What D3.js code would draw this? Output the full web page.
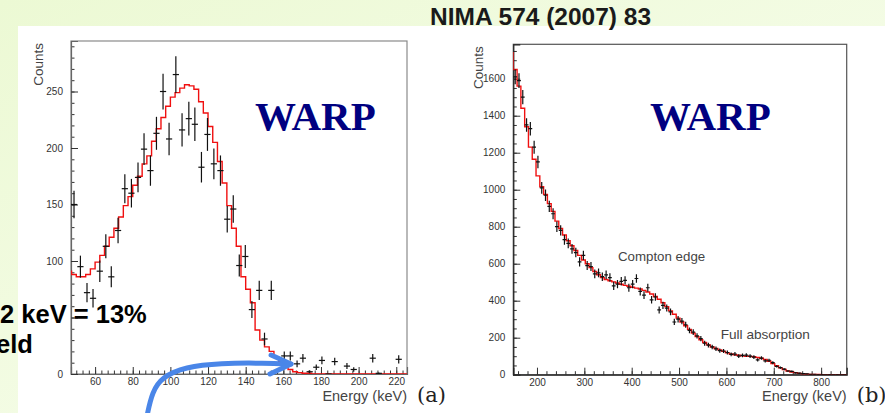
<!DOCTYPE html>
<html>
<head>
<meta charset="utf-8">
<script src="https://cdn.jsdelivr.net/npm/d3@7/dist/d3.min.js"></script>
<style>
  body { margin: 0; padding: 0; background: #fff; }
  svg { display: block; }
  .tick text { font-family: "Liberation Sans", Arial, sans-serif; font-size: 10px; fill: #333; }
  .axisTitle { font-family: "Liberation Sans", Arial, sans-serif; fill: #444; }
</style>
</head>
<body>
<div id="chart"></div>
<script>
var svgWidth = 885;
var svgHeight = 413;

// ---------- panel (a) data ----------
// measured points: energy (keV) and counts
var ptsEnergyA = [48.8, 52.2, 55.7, 58.9, 62.5, 65.7, 68.6, 72.2, 75.8, 79.3,
  82.8, 86, 89.4, 92.6, 96.1, 99.3, 102.9, 106.2, 109.8, 113,
  116.5, 119.7, 123.1, 126.6, 130.2, 133.4, 136.6, 139.8, 143.3, 147.2,
  150, 153.6, 160.5, 163.7, 167.3, 170.4, 174, 177.5, 180.5, 184,
  187.3, 193.8, 197.4, 207.5, 210.7, 221.3];
var ptsCountsA = [150, 95, 72, 67, 91, 113, 86, 127, 164, 160,
  174, 199, 180, 213, 250, 208, 265, 216, 226, 221,
  183, 212, 186, 180, 137, 146, 96, 104, 57, 74,
  31, 74, 16, 16, 9, 14, 2, 6, 12, 0,
  11, 7, 4, 14, 0.6, 13];
// simulated spectrum (red histogram), 2.5 keV bins from 45 keV
var simStartA = 45;
var simWidthA = 2.5;
var simCountsA = [91, 88, 86, 86, 88, 93, 99, 105, 113, 121,
  129, 139, 149, 157, 167, 175, 186, 193, 206, 217,
  227, 237, 245, 249, 253, 256, 255, 252, 241, 231,
  219, 205, 188, 169, 149, 129, 113, 86, 75, 63,
  39, 30, 24, 20, 15, 11, 6.5, 4, 2, 1.2,
  0.6, 0.6, 0, 0, 0, 0, 0, 0, 0, 0,
  0, 0, 0, 0, 0, 0, 0, 0, 0, 0, 0, 0, 0];
var xTicksA = [60, 80, 100, 120, 140, 160, 180, 200, 220];
var yTicksA = [0, 50, 100, 150, 200, 250];
var yLabelsA = ["0", "", "100", "150", "200", "250"];   // "50" sits under the overlay text

// ---------- panel (b) data ----------
var ptsStartB = 154;
var ptsWidthB = 8;
var ptsCountsB = [1610, 1590, 1500, 1350, 1330, 1230, 1150, 1010, 970, 910,
  870, 800, 780, 730, 710, 680, 660, 610, 645, 590,
  585, 545, 550, 530, 540, 525, 480, 490, 505, 510,
  470, 490, 520, 450, 430, 470, 405, 420, 350, 375,
  360, 340, 285, 300, 290, 270, 240, 230, 210, 195,
  170, 160, 150, 140, 130, 128, 120, 110, 112, 100,
  104, 106, 100, 95, 80, 90, 75, 78, 65, 45,
  38, 30, 20, 18, 10, 8, 6, 4, 2, 2,
  1, 1, 0, 1, 0, 1, 0, 0];
var simStartB = 142;
var simWidthB = 8;
var simCountsB = [1740, 1650, 1560, 1440, 1340, 1230, 1165, 1075, 1016, 975, 925,
  883, 830, 790, 755, 724, 697, 671, 645, 620, 600,
  579, 558, 540, 525, 515, 508, 502, 496, 489, 483,
  478, 473, 468, 463, 456, 447, 436, 423, 408, 389,
  368, 345, 327, 306, 285, 265, 245, 225, 206, 189,
  174, 161, 150, 142, 134, 126, 118, 112, 108, 105,
  102, 100, 99, 97, 93, 89, 82, 73, 60, 48,
  37, 28, 20, 15, 11, 7, 5, 3, 2, 1,
  1, 0, 0, 0, 0, 0, 0, 0];
var xTicksB = [200, 300, 400, 500, 600, 700, 800];
var yTicksB = [0, 200, 400, 600, 800, 1000, 1200, 1400, 1600];
var yLabelsB = yTicksB.map(String);

var svg = d3.select("#chart")
  .append("svg")
  .attr("width", svgWidth)
  .attr("height", svgHeight);

// Slide background
// ==============================
var defs = svg.append("defs");
var bg = defs.append("linearGradient")
  .attr("id", "bgGrad")
  .attr("x1", "0").attr("y1", "0")
  .attr("x2", "1").attr("y2", "1");
bg.append("stop").attr("offset", "0").attr("stop-color", "#ecf9d4");
bg.append("stop").attr("offset", "0.6").attr("stop-color", "#f4fce6");
bg.append("stop").attr("offset", "1").attr("stop-color", "#fbfef5");

svg.append("rect")
  .attr("width", svgWidth)
  .attr("height", svgHeight)
  .attr("fill", "url(#bgGrad)");

svg.append("rect")
  .attr("x", 18)
  .attr("y", 26)
  .attr("width", svgWidth - 18)
  .attr("height", svgHeight - 26)
  .attr("fill", "#fff");

// Draw one ROOT-like panel
// ==============================
function drawPanel(cfg) {
  var x = d3.scaleLinear().domain(cfg.xDomain).range([cfg.left, cfg.right]);
  var y = d3.scaleLinear().domain(cfg.yDomain).range([cfg.bottom, cfg.top]);

  defs.append("clipPath")
    .attr("id", cfg.id + "Clip")
    .append("rect")
    .attr("x", cfg.left)
    .attr("y", cfg.top)
    .attr("width", cfg.right - cfg.left)
    .attr("height", cfg.bottom - cfg.top);

  var g = svg.append("g");

  // frame
  g.append("rect")
    .attr("x", cfg.left)
    .attr("y", cfg.top)
    .attr("width", cfg.right - cfg.left)
    .attr("height", cfg.bottom - cfg.top)
    .attr("fill", "none")
    .attr("stroke", cfg.frameColor)
    .attr("stroke-width", 1.2);

  // minor ticks first, then major ticks with labels
  g.append("g")
    .attr("transform", `translate(0, ${cfg.bottom})`)
    .call(d3.axisBottom(x).tickValues(d3.range(cfg.xMinor[0], cfg.xMinor[1], cfg.xMinor[2])).tickSize(-3.5).tickFormat(""))
    .call(a => a.select(".domain").remove())
    .selectAll("line").attr("stroke", "#333");

  g.append("g")
    .attr("transform", `translate(0, ${cfg.bottom})`)
    .call(d3.axisBottom(x).tickValues(cfg.xTicks).tickSize(-7).tickPadding(4).tickFormat(d3.format("d")))
    .call(a => a.select(".domain").attr("stroke", cfg.axisColor).attr("stroke-width", 1.2))
    .selectAll("line").attr("stroke", "#333");

  g.append("g")
    .attr("transform", `translate(${cfg.left}, 0)`)
    .call(d3.axisLeft(y).tickValues(d3.range(cfg.yMinor[0], cfg.yMinor[1], cfg.yMinor[2])).tickSize(-3.5).tickFormat(""))
    .call(a => a.select(".domain").remove())
    .selectAll("line").attr("stroke", "#333");

  g.append("g")
    .attr("transform", `translate(${cfg.left}, 0)`)
    .call(d3.axisLeft(y).tickValues(cfg.yTicks).tickSize(-7).tickPadding(8)
      .tickFormat((d, i) => cfg.yLabels[i]))
    .call(a => a.select(".domain").attr("stroke", cfg.axisColor).attr("stroke-width", 1.2))
    .selectAll("line").attr("stroke", "#333");

  var plot = g.append("g").attr("clip-path", `url(#${cfg.id}Clip)`);

  // red simulated histogram
  var steps = cfg.simCounts.map((v, i) => [cfg.simStart + i * cfg.simWidth, v]);
  steps.push([cfg.simStart + cfg.simCounts.length * cfg.simWidth, cfg.simCounts[cfg.simCounts.length - 1]]);
  var line = d3.line()
    .x(d => x(d[0]))
    .y(d => y(d[1]))
    .curve(d3.curveStepAfter);
  plot.append("path")
    .datum(steps)
    .attr("d", line)
    .attr("fill", "none")
    .attr("stroke", "#f01010")
    .attr("stroke-width", 1.4);

  // data points with error bars
  var pts = cfg.ptsEnergy.map((e, i) => ({ e: e, c: cfg.ptsCounts[i] }));
  var pg = plot.selectAll(".pt")
    .data(pts)
    .enter()
    .append("g")
    .attr("class", "pt");
  pg.append("line")
    .attr("x1", d => x(d.e - cfg.xErr))
    .attr("x2", d => x(d.e + cfg.xErr))
    .attr("y1", d => y(d.c))
    .attr("y2", d => y(d.c))
    .attr("stroke", "#111")
    .attr("stroke-width", 1.2);
  pg.append("line")
    .attr("x1", d => x(d.e))
    .attr("x2", d => x(d.e))
    .attr("y1", d => y(d.c + Math.sqrt(d.c)))
    .attr("y2", d => y(Math.max(0, d.c - Math.sqrt(d.c))))
    .attr("stroke", "#111")
    .attr("stroke-width", 1.2);

  // axis titles
  g.append("text")
    .attr("class", "axisTitle")
    .attr("transform", `translate(${cfg.countsX}, ${cfg.top + 2}) rotate(-90)`)
    .attr("text-anchor", "end")
    .style("font-size", "13.5px")
    .text("Counts");

  g.append("text")
    .attr("class", "axisTitle")
    .attr("x", cfg.right)
    .attr("y", 401)
    .attr("text-anchor", "end")
    .style("font-size", "14.5px")
    .text("Energy (keV)");

  g.append("text")
    .attr("x", cfg.right + 10)
    .attr("y", 402)
    .style("font-family", "'DejaVu Serif', 'Liberation Serif', serif")
    .style("font-size", "21px")
    .attr("fill", "#222")
    .text(cfg.tag);

  g.append("text")
    .attr("x", cfg.warpX)
    .attr("y", 130)
    .style("font-family", "'Liberation Serif', 'Times New Roman', serif")
    .style("font-weight", "bold")
    .style("font-size", "41px")
    .attr("fill", "#000080")
    .text("WARP");

  return { x: x, y: y, g: g };
}

var panelA = drawPanel({
  id: "a", left: 71, right: 407, top: 41, bottom: 374,
  xDomain: [47.2, 225.7], yDomain: [0, 294.7],
  xTicks: xTicksA, yTicks: yTicksA, yLabels: yLabelsA,
  xMinor: [50, 226, 10 / 3], yMinor: [0, 295, 10],
  simStart: simStartA, simWidth: simWidthA, simCounts: simCountsA,
  ptsEnergy: ptsEnergyA, ptsCounts: ptsCountsA, xErr: 1.65,
  frameColor: "#8a8a8a", axisColor: "#666",
  countsX: 43, tag: "(a)", warpX: 255
});

var ptsEnergyB = ptsCountsB.map((c, i) => ptsStartB + i * ptsWidthB);
var panelB = drawPanel({
  id: "b", left: 513.3, right: 846.7, top: 44.3, bottom: 374.7,
  xDomain: [150, 854], yDomain: [0, 1786],
  xTicks: xTicksB, yTicks: yTicksB, yLabels: yLabelsB,
  xMinor: [160, 854, 20], yMinor: [0, 1786, 50],
  simStart: simStartB, simWidth: simWidthB, simCounts: simCountsB,
  ptsEnergy: ptsEnergyB, ptsCounts: ptsCountsB, xErr: 4,
  frameColor: "#555", axisColor: "#222",
  countsX: 483, tag: "(b)", warpX: 650
});

// Annotations in panel (b)
panelB.g.append("text")
  .attr("class", "axisTitle")
  .attr("x", panelB.x(371))
  .attr("y", 261)
  .style("font-size", "13.3px")
  .text("Compton edge");

panelB.g.append("text")
  .attr("class", "axisTitle")
  .attr("x", panelB.x(588))
  .attr("y", 339)
  .style("font-size", "13.6px")
  .text("Full absorption");

// Slide title and overlay text
// ==============================
svg.append("text")
  .attr("x", 430)
  .attr("y", 25)
  .style("font-family", "'Liberation Sans', Arial, sans-serif")
  .style("font-weight", "bold")
  .style("font-size", "24.5px")
  .attr("fill", "#1a1a1a")
  .text("NIMA 574 (2007) 83");

svg.append("text")
  .attr("x", 0)
  .attr("y", 323)
  .style("font-family", "'Liberation Sans', Arial, sans-serif")
  .style("font-weight", "bold")
  .style("font-size", "25.5px")
  .attr("fill", "#000")
  .text("2 keV = 13%");

svg.append("text")
  .attr("x", -4)
  .attr("y", 353)
  .style("font-family", "'Liberation Sans', Arial, sans-serif")
  .style("font-weight", "bold")
  .style("font-size", "25.5px")
  .attr("fill", "#000")
  .text("eld");

// Blue arrow pointing at the tail of panel (a)
var arrowPts = [[87.6, -37], [90.3, -15.9], [95.6, -2.7], [107.8, 6.2], [126.4, 9.7], [150.3, 9.7], [164.1, 8.8]];
var arrowHead = [[153.5, 16.8], [164.1, 8.8], [152.9, 0]];
var arrowLine = d3.line()
  .x(d => panelA.x(d[0]))
  .y(d => panelA.y(d[1]))
  .curve(d3.curveBasis);
svg.append("path")
  .datum(arrowPts)
  .attr("d", arrowLine)
  .attr("fill", "none")
  .attr("stroke", "#4a86e8")
  .attr("stroke-width", 5)
  .attr("stroke-linecap", "round");
svg.append("path")
  .datum(arrowHead)
  .attr("d", arrowLine.curve(d3.curveLinear))
  .attr("fill", "none")
  .attr("stroke", "#4a86e8")
  .attr("stroke-width", 5)
  .attr("stroke-linecap", "round")
  .attr("stroke-linejoin", "round");
</script>
</body>
</html>
